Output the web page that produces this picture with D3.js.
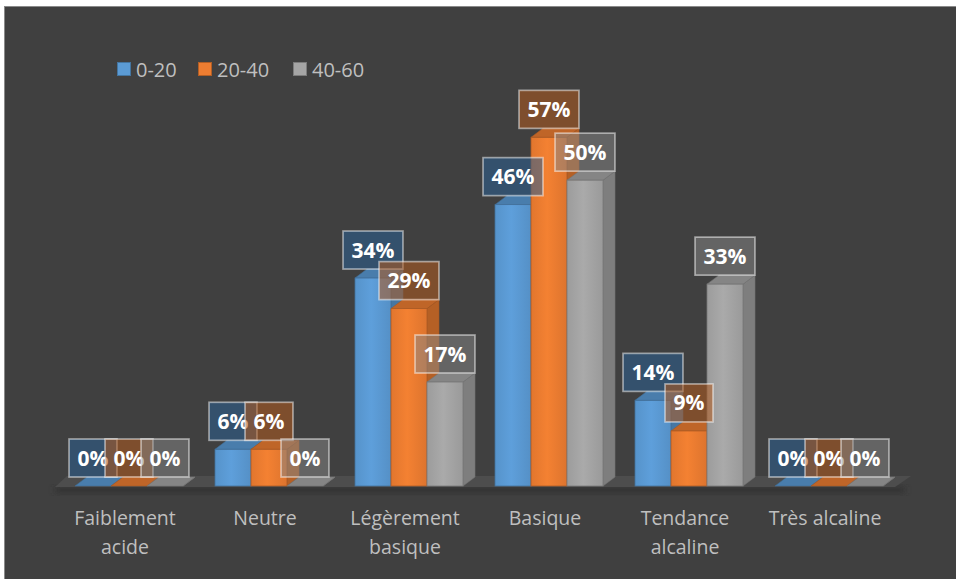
<!DOCTYPE html>
<html><head><meta charset="utf-8">
<script src="https://cdn.jsdelivr.net/npm/d3@7"></script>
<style>html,body{margin:0;padding:0;background:#fff;}svg{display:block;}</style>
</head><body>
<svg id="chart" width="956" height="579"></svg>
<script>
const categories = ["Faiblement acide", "Neutre", "Légèrement basique", "Basique", "Tendance alcaline", "Très alcaline"];
const seriesNames = ["0-20", "20-40", "40-60"];
const values0_20  = [0, 6, 34, 46, 14, 0];
const values20_40 = [0, 6, 29, 57, 9, 0];
const values40_60 = [0, 0, 17, 50, 33, 0];
const seriesValues = [values0_20, values20_40, values40_60];

const colors = ["#5B9BD5", "#ED7D31", "#A5A5A5"];
const boxFills = ["rgba(41,94,145,0.55)", "rgba(176,90,30,0.55)", "rgba(135,135,135,0.5)"];

const svg = d3.select("#chart");
svg.append("rect").attr("x", 0).attr("y", 0).attr("width", 956).attr("height", 579).attr("fill", "#ffffff");
svg.append("rect").attr("x", 4.5).attr("y", 6.5).attr("width", 960).attr("height", 580)
  .attr("fill", "#404040").attr("stroke", "#8a8a8a").attr("stroke-width", 1);

const defs = svg.append("defs");
colors.forEach((c, i) => {
  const g = defs.append("linearGradient").attr("id", "grad" + i).attr("x1", "0").attr("x2", "1").attr("y1", "0").attr("y2", "0");
  g.append("stop").attr("offset", "0%").attr("stop-color", d3.color(c).darker(0.15));
  g.append("stop").attr("offset", "45%").attr("stop-color", d3.color(c).brighter(0.08));
  g.append("stop").attr("offset", "100%").attr("stop-color", d3.color(c).darker(0.2));
});
const blur = defs.append("filter").attr("id", "shadow").attr("x", "-5%").attr("y", "-50%").attr("width", "110%").attr("height", "200%");
blur.append("feGaussianBlur").attr("stdDeviation", 3);

const x = d3.scaleBand().domain(categories).range([55, 895]);
const xs = d3.scaleBand().domain(seriesNames).range([0, 108]);
const groupOffset = 20;
const y = d3.scaleLinear().domain([0, 60]).range([486, 119]);
const dx = 12, dy = 9;
const base = y(0);

// floor shadow + floor
svg.append("rect").attr("x", 55).attr("y", base + 1).attr("width", 850).attr("height", 6)
  .attr("fill", "#2f2f2f").attr("filter", "url(#shadow)").attr("opacity", 0.8);
svg.append("polygon")
  .attr("points", [[55, base + 1], [895, base + 1], [895 + dx + 4, base + 1 - dy - 2], [55 + dx, base + 1 - dy - 2]].map(p => p.join(",")).join(" "))
  .attr("fill", "#4d4d4d");

// bars
const barsG = svg.append("g");
categories.forEach((cat, ci) => {
  seriesNames.forEach((s, si) => {
    const v = seriesValues[si][ci];
    const x0 = x(cat) + groupOffset + xs(s);
    const w = xs.bandwidth();
    const yt = y(v);
    const c = d3.color(colors[si]);
    const g = barsG.append("g");
    g.append("polygon")
      .attr("points", [[x0 + w, yt], [x0 + w + dx, yt - dy], [x0 + w + dx, base - dy], [x0 + w, base]].map(p => p.join(",")).join(" "))
      .attr("fill", c.darker(0.75)).attr("stroke", c.darker(1)).attr("stroke-width", 0.6);
    g.append("polygon")
      .attr("points", [[x0, yt], [x0 + dx, yt - dy], [x0 + w + dx, yt - dy], [x0 + w, yt]].map(p => p.join(",")).join(" "))
      .attr("fill", c.darker(0.6)).attr("stroke", c.darker(1)).attr("stroke-width", 0.6);
    if (v > 0) {
      g.append("rect").attr("x", x0).attr("y", yt).attr("width", w).attr("height", base - yt)
        .attr("fill", "url(#grad" + si + ")").attr("stroke", c.darker(0.9)).attr("stroke-width", 0.8);
    }
  });
});

// data labels
const labelsG = svg.append("g");
categories.forEach((cat, ci) => {
  seriesNames.forEach((s, si) => {
    const v = seriesValues[si][ci];
    const cx = x(cat) + groupOffset + xs(s) + xs.bandwidth() / 2;
    const bottom = y(v) - dy;
    const g = labelsG.append("g");
    const rect = g.append("rect");
    const t = g.append("text").text(v + "%")
      .attr("x", cx).attr("y", bottom - 19 + 7.5)
      .attr("text-anchor", "middle")
      .attr("font-family", "'Open Sans', sans-serif").attr("font-weight", "bold").attr("font-size", 21)
      .attr("fill", "#ffffff");
    const tw = t.node().getComputedTextLength();
    const bw = tw + 17, bh = 38;
    rect.attr("x", cx - bw / 2).attr("y", bottom - bh).attr("width", bw).attr("height", bh)
      .attr("fill", boxFills[si]).attr("stroke", "rgba(255,255,255,0.5)").attr("stroke-width", 1.7);
  });
});

// category labels with wrapping
const catG = svg.append("g");
categories.forEach(cat => {
  const cx = x(cat) + x.bandwidth() / 2;
  const t = catG.append("text").attr("text-anchor", "middle")
    .attr("font-family", "'Open Sans', sans-serif").attr("font-size", 19.5).attr("fill", "#bfbfbf");
  const words = cat.split(" ");
  let lines = [];
  let line = [];
  const probe = t.append("tspan");
  words.forEach(wd => {
    line.push(wd);
    probe.text(line.join(" "));
    if (probe.node().getComputedTextLength() > x.bandwidth() - 10 && line.length > 1) {
      line.pop();
      lines.push(line.join(" "));
      line = [wd];
    }
  });
  lines.push(line.join(" "));
  probe.remove();
  lines.forEach((ln, li) => {
    t.append("tspan").attr("x", cx).attr("y", 525 + li * 28.5).text(ln);
  });
});

// legend
const legendX = [117, 198, 293];
const legend = svg.append("g");
seriesNames.forEach((s, i) => {
  legend.append("rect").attr("x", legendX[i] + 0.5).attr("y", 62.5).attr("width", 13).attr("height", 13)
    .attr("fill", colors[i]).attr("stroke", d3.color(colors[i]).darker(0.8)).attr("stroke-width", 1);
  legend.append("text").attr("x", legendX[i] + 19).attr("y", 77).text(s)
    .attr("font-family", "'Open Sans', sans-serif").attr("font-size", 20).attr("fill", "#bfbfbf");
});
</script>
</body></html>
